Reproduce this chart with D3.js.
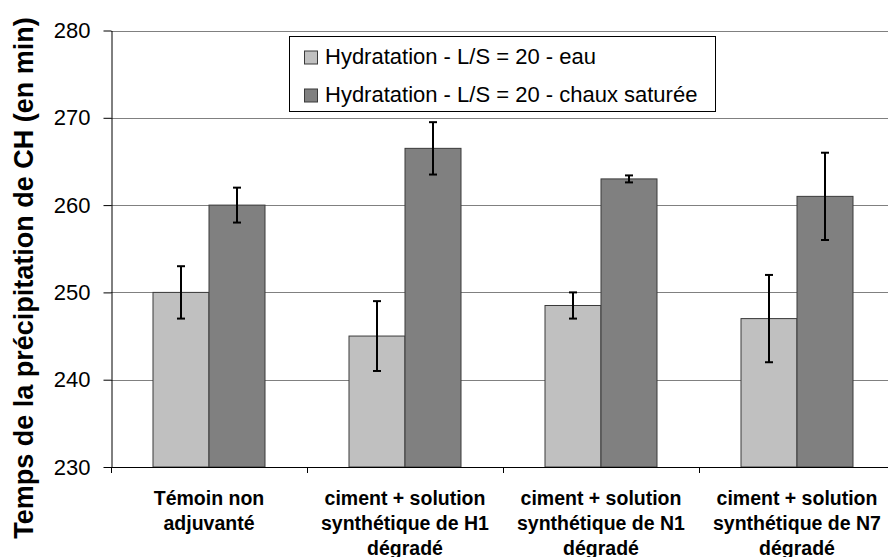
<!DOCTYPE html>
<html>
<head>
<meta charset="utf-8">
<script src="https://cdn.jsdelivr.net/npm/d3@7"></script>
<style>
  html, body { margin: 0; padding: 0; background: #fff; }
  svg { display: block; font-family: "Liberation Sans", Arial, sans-serif; }
</style>
</head>
<body>
<svg id="chart" width="888" height="557"></svg>
<script>
// Categories (one label line per entry)
const categories = [
  ["Témoin non", "adjuvanté"],
  ["ciment + solution", "synthétique de H1", "dégradé"],
  ["ciment + solution", "synthétique de N1", "dégradé"],
  ["ciment + solution", "synthétique de N7", "dégradé"]
];
const seriesNames = [
  "Hydratation - L/S = 20 - eau",
  "Hydratation - L/S = 20 - chaux saturée"
];
const seriesColors = ["#c0c0c0", "#808080"];
// Mean values and error half-widths (minutes)
const valuesEau = [250, 245, 248.5, 247];
const errorsEau = [3, 4, 1.5, 5];
const valuesChaux = [260, 266.5, 263, 261];
const errorsChaux = [2, 3, 0.4, 5];
const yTicks = [230, 240, 250, 260, 270, 280];
const yTitle = "Temps de la précipitation de CH (en min)";

const svg = d3.select("#chart");
const plot = { left: 111, right: 895, top: 30.5, bottom: 467 };

const catKeys = categories.map((c, i) => i);
const x0 = d3.scaleBand().domain(catKeys).range([plot.left, plot.right]).padding(0);
const x1 = d3.scaleBand().domain([0, 1]).range([0, x0.bandwidth()])
  .paddingInner(0).paddingOuter(0.75);
const y = d3.scaleLinear().domain([230, 280]).range([plot.bottom, plot.top]);

// Horizontal gridlines
svg.append("g").selectAll("line").data(yTicks.slice(1)).join("line")
  .attr("x1", plot.left).attr("x2", 888)
  .attr("y1", d => Math.round(y(d)) + 0.5).attr("y2", d => Math.round(y(d)) + 0.5)
  .attr("stroke", "#808080").attr("stroke-width", 1);

// Bars
const series = [
  { vals: valuesEau, errs: errorsEau },
  { vals: valuesChaux, errs: errorsChaux }
];
const rows = [];
series.forEach((s, si) => s.vals.forEach((v, ci) => rows.push({ si, ci, v, e: s.errs[ci] })));

svg.append("g").selectAll("rect").data(rows).join("rect")
  .attr("x", d => x0(d.ci) + x1(d.si))
  .attr("y", d => y(d.v))
  .attr("width", x1.bandwidth())
  .attr("height", d => y(230) - y(d.v))
  .attr("fill", d => seriesColors[d.si])
  .attr("stroke", "#3a3a3a").attr("stroke-width", 1);

// Error bars
const eb = svg.append("g").attr("stroke", "#000").attr("stroke-width", 2);
rows.forEach(d => {
  const cx = x0(d.ci) + x1(d.si) + x1.bandwidth() / 2;
  const yt = y(d.v + d.e), yb = y(d.v - d.e);
  eb.append("line").attr("x1", cx).attr("x2", cx).attr("y1", yt).attr("y2", yb);
  eb.append("line").attr("x1", cx - 4).attr("x2", cx + 4).attr("y1", yt).attr("y2", yt);
  eb.append("line").attr("x1", cx - 4).attr("x2", cx + 4).attr("y1", yb).attr("y2", yb);
});

// Y axis
const yAxis = d3.axisLeft(y).tickValues(yTicks).tickSize(8).tickPadding(13).tickSizeOuter(0);
const gy = svg.append("g").attr("transform", `translate(${plot.left + 0.5},0)`).call(yAxis);
gy.select(".domain").attr("stroke", "#000");
gy.selectAll(".tick line").attr("stroke", "#000");
gy.selectAll(".tick text").attr("font-size", 22).attr("fill", "#000")
  .attr("font-family", "Liberation Sans, Arial, sans-serif");

// X axis baseline and category separators
const gx = svg.append("g");
gx.append("line").attr("x1", plot.left).attr("x2", 888)
  .attr("y1", plot.bottom + 0.5).attr("y2", plot.bottom + 0.5).attr("stroke", "#000");
gx.selectAll("line.sep").data(catKeys.concat([categories.length])).join("line")
  .attr("class", "sep")
  .attr("x1", d => Math.round(plot.left + d * x0.step()) + 0.5)
  .attr("x2", d => Math.round(plot.left + d * x0.step()) + 0.5)
  .attr("y1", plot.bottom).attr("y2", plot.bottom + 6).attr("stroke", "#000");

// Category labels
const lab = svg.append("g").attr("font-size", 19.5).attr("font-weight", "bold")
  .attr("text-anchor", "middle").attr("fill", "#000");
categories.forEach((lines, ci) => {
  const cx = x0(ci) + x0.bandwidth() / 2;
  lines.forEach((t, li) => {
    lab.append("text").attr("x", cx).attr("y", 505 + li * 25).text(t);
  });
});

// Y axis title
svg.append("text")
  .attr("transform", `translate(33,278) rotate(-90)`)
  .attr("text-anchor", "middle").attr("font-size", 27).attr("font-weight", "bold")
  .attr("fill", "#000").text(yTitle);

// Legend
const lg = svg.append("g");
lg.append("rect").attr("x", 289.5).attr("y", 36.5).attr("width", 426).attr("height", 75)
  .attr("fill", "#fff").attr("stroke", "#000").attr("stroke-width", 1);
seriesNames.forEach((n, i) => {
  const base = 63.5 + i * 38;
  lg.append("rect").attr("x", 304.5).attr("y", base - 12.5).attr("width", 13).attr("height", 13)
    .attr("fill", seriesColors[i]).attr("stroke", "#3a3a3a");
  lg.append("text").attr("x", 325).attr("y", base).attr("font-size", 22)
    .attr("fill", "#000").text(n);
});
</script>
</body>
</html>
